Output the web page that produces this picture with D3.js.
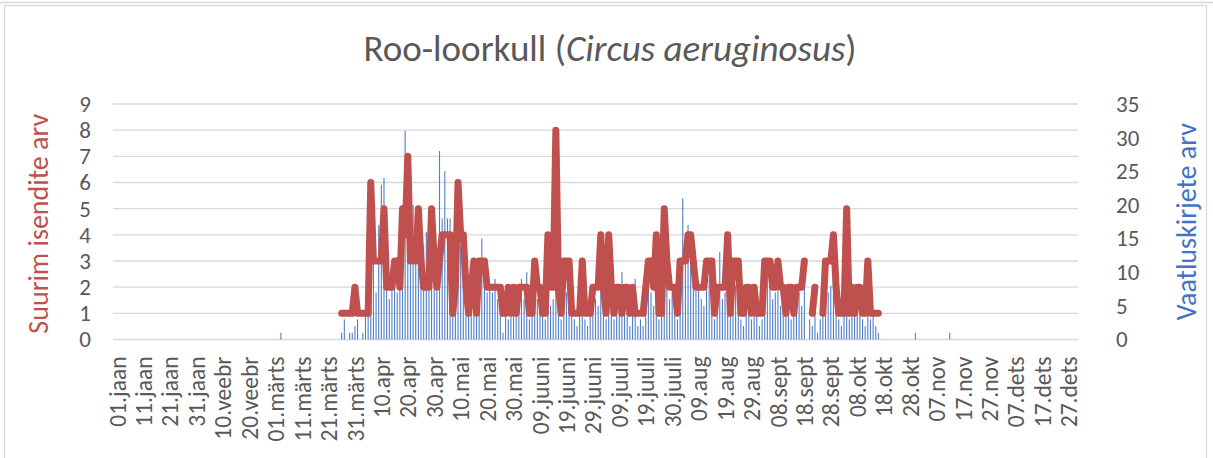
<!DOCTYPE html>
<meta charset="utf-8">
<style>
    body { margin: 0; background: #fff; }
    text { font-family: Carlito, Calibri, Lato, sans-serif; fill: #595959; }
    .grid line { stroke: #d9d9d9; stroke-width: 1.3; }
    .axis path, .axis line { display: none; }
</style>
<svg width="1213" height="458"></svg>
<script src="https://cdn.jsdelivr.net/npm/d3@7"></script>
<script>
    // one category per day of the year
    var dayCount = 365;

    var tickLabels = ['01.jaan', '11.jaan', '21.jaan', '31.jaan', '10.veebr', '20.veebr', '01.märts', '11.märts',
        '21.märts', '31.märts', '10.apr', '20.apr', '30.apr', '10.mai', '20.mai', '30.mai', '09.juuni',
        '19.juuni', '29.juuni', '09.juuli', '19.juuli', '30.juuli', '09.aug', '19.aug', '29.aug', '08.sept',
        '18.sept', '28.sept', '08.okt', '18.okt', '28.okt', '07.nov', '17.nov', '27.nov', '07.dets',
        '17.dets', '27.dets'];

    // series start at this day index (27.märts)
    var firstDay = 86;

    // suurim isendite arv (left axis), null = no value
    var maxBirds = [
        1, 1, 1, 1, 1, 2, 1, 1, 1, 1,
        1, 6, 3, 3, 3, 3, 5, 2, 2, 2,
        3, 3, 2, 5, 4, 7, 3, 3, 3, 5,
        3, 2, 2, 2, 5, 3, 2, 3, 4, 4,
        4, 4, 1, 2, 6, 4, 4, 2, 1, 2,
        3, 1, 3, 3, 3, 2, 2, 2, 2, 2,
        2, 1, 1, 2, 1, 2, 1, 2, 2, 2,
        2, 1, 1, 3, 2, 2, 1, 1, 4, 2,
        2, 8, 2, 1, 3, 3, 3, 1, 1, 1,
        1, 3, 1, 1, 1, 2, 2, 2, 4, 2,
        1, 4, 2, 1, 2, 2, 1, 2, 2, 1,
        2, 1, 1, 1, 1, 2, 3, 3, 2, 4,
        1, 1, 5, 3, 2, 2, 2, 1, 3, 3,
        3, 4, 4, 3, 2, 2, 2, 2, 3, 3,
        3, 1, 2, 2, 2, 2, 4, 1, 3, 3,
        3, 1, 1, 2, 2, 1, 2, 1, 1, 1,
        3, 3, 3, 2, 2, 3, 2, 2, 1, 2,
        2, 1, 2, 2, 2, 3, null, null, 1, 2,
        null, null, 1, 3, 3, 3, 4, 2, 1, 1,
        1, 5, 1, 2, 1, 2, 2, 1, 1, 3,
        1, 1, 1, 1
    ];

    // vaatluskirjete arv (right axis)
    var records = [
        1, 3, 0, 1, 1, 2, 3, 0, 1, 4,
        5, 8, 12, 7, 17, 23, 24, 12, 6, 10,
        8, 7, 10, 20, 31, 16, 12, 20, 12, 15,
        19, 14, 16, 10, 18, 9, 12, 28, 18, 25,
        18, 18, 10, 12, 16, 14, 12, 8, 7, 9,
        11, 6, 10, 15, 9, 7, 8, 7, 9, 6,
        5, 1, 4, 3, 5, 6, 4, 7, 9, 6,
        10, 3, 5, 8, 6, 7, 4, 3, 9, 5,
        6, 12, 5, 3, 8, 7, 9, 4, 3, 2,
        4, 6, 3, 2, 4, 5, 6, 5, 9, 6,
        3, 8, 5, 3, 5, 6, 10, 5, 4, 2,
        5, 9, 2, 3, 2, 9, 9, 7, 5, 10,
        3, 4, 12, 8, 6, 7, 5, 3, 9, 21,
        14, 17, 12, 10, 9, 8, 6, 5, 10, 9,
        8, 3, 6, 13, 6, 7, 13, 5, 9, 8,
        10, 3, 2, 6, 5, 3, 6, 4, 2, 3,
        9, 10, 8, 6, 7, 9, 5, 6, 4, 6,
        3, 5, 6, 7, 5, 8, 0, 3, 2, 5,
        1, 3, 4, 9, 7, 8, 10, 5, 3, 2,
        4, 9, 3, 5, 4, 6, 5, 3, 2, 5,
        3, 4, 2, 1
    ];

    // single records outside the main period
    var strayDays = [63, 303, 316];
    var strayRecords = [1, 1, 1];

    var leftTicks = [0, 1, 2, 3, 4, 5, 6, 7, 8, 9];
    var rightTicks = [0, 5, 10, 15, 20, 25, 30, 35];

    var svg = d3.select('svg'),
        margin = { top: 104, right: 135, bottom: 118.5, left: 113 },
        width = +svg.attr('width') - margin.left - margin.right,
        height = +svg.attr('height') - margin.top - margin.bottom;

    // frame
    svg.append('line').attr('x1', 0).attr('x2', 1213).attr('y1', 2.5).attr('y2', 2.5)
        .attr('stroke', '#d9d9d9').attr('stroke-width', 1.3);
    svg.append('rect').attr('x', 4.5).attr('y', 5.5).attr('width', 1202).attr('height', 470)
        .attr('fill', 'none').attr('stroke', '#d9d9d9').attr('stroke-width', 1.3);

    var x = d3.scaleBand().domain(d3.range(dayCount)).range([0, width]),
        yL = d3.scaleLinear().domain([0, 9]).range([height, 0]),
        yR = d3.scaleLinear().domain([0, 35]).range([height, 0]);

    var g = svg.append('g').attr('transform', 'translate(' + margin.left + ',' + margin.top + ')');

    g.append('g').attr('class', 'grid')
        .selectAll('line').data(leftTicks).enter().append('line')
        .attr('x1', 0).attr('x2', width)
        .attr('y1', d => yL(d)).attr('y2', d => yL(d));

    // bar data: day index + value
    var barData = records.map((v, i) => ({ day: firstDay + i, v: v }))
        .concat(strayDays.map((d, i) => ({ day: d, v: strayRecords[i] })));
    var bw = 1.1;

    g.selectAll('.bar').data(barData.filter(d => d.v > 0)).enter().append('rect')
        .attr('class', 'bar')
        .attr('x', d => x(d.day) + (x.bandwidth() - bw) / 2)
        .attr('y', d => yR(d.v))
        .attr('width', bw)
        .attr('height', d => height - yR(d.v))
        .attr('fill', '#4f7fc8');

    var line = d3.line()
        .defined(d => d != null)
        .x((d, i) => x(firstDay + i) + x.bandwidth() / 2)
        .y(d => yL(d));

    g.append('path').datum(maxBirds)
        .attr('d', line)
        .attr('fill', 'none')
        .attr('stroke', '#c0504d')
        .attr('stroke-width', 7)
        .attr('stroke-linejoin', 'round')
        .attr('stroke-linecap', 'round');

    // axes
    g.append('g').attr('class', 'axis')
        .call(d3.axisLeft(yL).tickValues(leftTicks).tickSize(0).tickPadding(22))
        .selectAll('text').style('font-size', '23px');

    g.append('g').attr('class', 'axis')
        .attr('transform', 'translate(' + width + ',0)')
        .call(d3.axisRight(yR).tickValues(rightTicks).tickSize(0).tickPadding(38))
        .selectAll('text').style('font-size', '23px');

    g.append('g').attr('class', 'axis')
        .attr('transform', 'translate(0,' + height + ')')
        .call(d3.axisBottom(x).tickValues(d3.range(0, dayCount, 10))
            .tickFormat((d, i) => tickLabels[i]).tickSize(0))
        .selectAll('text')
        .style('font-size', '23.5px')
        .attr('text-anchor', 'end')
        .attr('transform', 'rotate(-90)')
        .attr('x', -17)
        .attr('y', 3)
        .attr('dy', '0.35em');

    // titles
    var title = svg.append('text').attr('x', 610).attr('y', 61)
        .attr('text-anchor', 'middle').style('font-size', '37px');
    title.append('tspan').text('Roo-loorkull (');
    title.append('tspan').style('font-style', 'italic').text('Circus aeruginosus');
    title.append('tspan').text(')');

    svg.append('text')
        .attr('transform', 'translate(48,' + (margin.top + height / 2 + 2) + ') rotate(-90)')
        .attr('text-anchor', 'middle')
        .style('font-size', '28px').style('fill', '#c0504d')
        .text('Suurim isendite arv');

    svg.append('text')
        .attr('transform', 'translate(1196,' + (margin.top + height / 2) + ') rotate(-90)')
        .attr('text-anchor', 'middle')
        .style('font-size', '28px').style('fill', '#4472c4')
        .text('Vaatluskirjete arv');
</script>
